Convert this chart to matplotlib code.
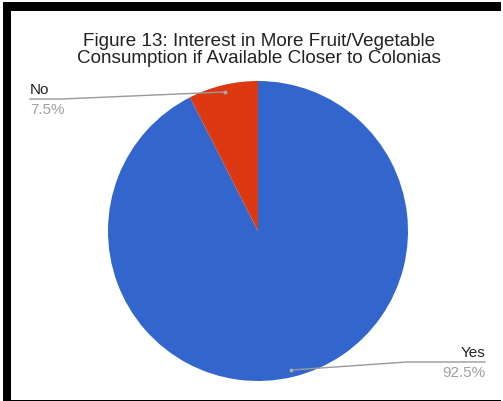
import numpy as np
import matplotlib
matplotlib.use("Agg")
import matplotlib.pyplot as plt

plt.rcParams['font.family'] = ['Liberation Sans', 'DejaVu Sans']

labels = ['Yes', 'No']
shares = [92.5, 7.5]
colors = ['#3366cc', '#dc3912']
title = 'Figure 13: Interest in More Fruit/Vegetable\nConsumption if Available Closer to Colonias'

W, H = 503, 402
fig = plt.figure(figsize=(W / 100, H / 100), dpi=100)
ax = fig.add_axes([0, 0, 1, 1])

cx, cy, r = 258, H - 232, 150
wedges, _ = ax.pie(shares, colors=colors, startangle=90, counterclock=False,
                   center=(cx, cy), radius=r,
                   wedgeprops=dict(linewidth=0))
ax.set_xlim(0, W)
ax.set_ylim(0, H)
ax.set_aspect('auto')
ax.axis('off')

# black frame on top / left / bottom
ax.add_patch(plt.Rectangle((3, H - 12), W - 5, 9, facecolor='black', edgecolor='none'))
ax.add_patch(plt.Rectangle((3, 0), 8, H - 3, facecolor='black', edgecolor='none'))
ax.add_patch(plt.Rectangle((3, 0), W - 5, 1.5, facecolor='black', edgecolor='none'))

ax.text(259, H - 50, title, ha='center', va='center', fontsize=13.6,
        color='#222222', linespacing=1.02)

# leader lines: short horizontal rule under the label, then off to the slice
label_pos = {'No': (30, H - 100, 'left', 62), 'Yes': (485, H - 363, 'right', 407)}
for w, lab, val in zip(wedges, labels, shares):
    mid = np.deg2rad((w.theta1 + w.theta2) / 2)
    px, py = cx + 0.953 * r * np.cos(mid), cy + 0.953 * r * np.sin(mid)
    lx, ly, ha, bend = label_pos[lab]
    ax.plot([lx, bend, px], [ly, ly, py], color='#999999', lw=1.0)
    ax.plot(px, py, 'o', ms=2.8, color='#aaaaaa', mec='none')
    ax.text(lx, ly + 2.5, lab, ha=ha, va='bottom', fontsize=11, color='#222222')
    ax.text(lx, ly - 3, f'{val}%', ha=ha, va='top', fontsize=11, color='#a0a0a0')

fig.savefig('out.png', dpi=100, facecolor='white')
